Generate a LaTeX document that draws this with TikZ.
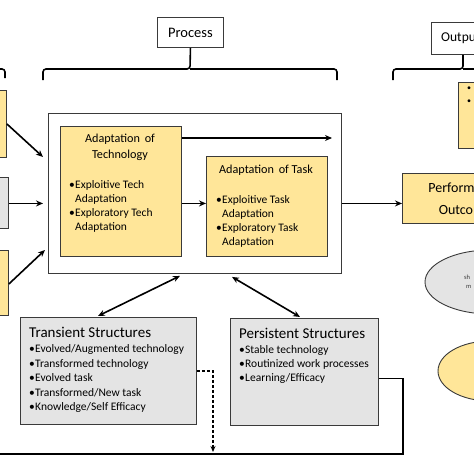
\documentclass[tikz,border=0pt]{standalone}
\usepackage{fontspec}
\setmainfont{Carlito}
\usetikzlibrary{arrows.meta,shapes.geometric}
\definecolor{gold}{HTML}{FFE699}
\definecolor{lgrey}{HTML}{E4E4E4}
\definecolor{edge}{HTML}{3A3A3A}
\newcommand{\bul}{\makebox[6pt][l]{•}}
\newcommand{\ind}{\hspace*{6pt}}
\begin{document}
\begin{tikzpicture}[x=1pt,y=-1pt,
  box/.style={draw=edge, line width=0.9pt, rectangle, inner sep=0, anchor=north west},
  goldbox/.style={box, fill=gold},
  greybox/.style={box, fill=lgrey},
  txt/.style={inner sep=0, align=left, anchor=north west},
  arr/.style={line width=1.6pt, -{Stealth[length=7pt,width=6pt]}},
  darr/.style={line width=1.6pt, {Stealth[length=7pt,width=6pt]}-{Stealth[length=7pt,width=6pt]}},
  brace/.style={line width=1.6pt, rounded corners=3pt},
  body/.style={font=\fontsize{11.5}{14}\selectfont},
  ttl/.style={font=\fontsize{15}{17}\selectfont}]
\useasboundingbox (0,0) rectangle (474,474);
% header boxes
\node[box, minimum width=66pt, minimum height=30pt, font=\fontsize{14.5}{16}\selectfont] (proc) at (157,17) {Process};
\node[box, minimum width=70pt, minimum height=32pt] (outb) at (431,22) {};
\node[inner sep=0, anchor=west, font=\fontsize{13.5}{16}\selectfont] (outt) at (441,38.5) {Output};
% braces
\draw[brace] (43,80) -- (43,69) -- (190,69) -- (proc.south);
\draw[brace] (190,69) -- (337,69) -- (337,80);
\draw[brace] (-10,69) -- (5,69) -- (5,78);
\draw[brace] (393,80) -- (393,69) -- (463,69) -- (outb.south -| 463,0);
\draw[brace] (463,69) -- (490,69);
% left boxes
\node[goldbox, minimum width=30pt, minimum height=67pt] (l1) at (-24,90) {};
\node[greybox, minimum width=32pt, minimum height=51pt] (l2) at (-24,177) {};
\node[goldbox, minimum width=32pt, minimum height=65pt] (l3) at (-24,250) {};
% main box
\node[box, fill=white, minimum width=293pt, minimum height=160pt] (main) at (48,113) {};
\node[goldbox, minimum width=121pt, minimum height=130pt] (tech) at (60,126) {};
\node[inner sep=0, align=center, font=\fontsize{12.2}{16}\selectfont] (techt) at (120,147) {Adaptation\hspace{2pt} of\\Technology};
\node[txt, body] (techb) at (69,180.8) {\bul Exploitive Tech\\\ind Adaptation\\\bul Exploratory Tech\\\ind Adaptation};
\node[goldbox, minimum width=121pt, minimum height=100pt] (task) at (206,156) {};
\node[inner sep=0, anchor=base, font=\fontsize{12.2}{14}\selectfont] (taskt) at (266,173) {Adaptation\hspace{2pt} of Task};
\node[txt, body] (taskb) at (216,195.8) {\bul Exploitive Task\\\ind Adaptation\\\bul Exploratory Task\\\ind Adaptation};
% output side
\node[goldbox, minimum width=40pt, minimum height=66pt] (outy) at (458,82) {};
\node[inner sep=0, align=left, anchor=north west, font=\fontsize{8}{12.5}\selectfont] (outbul) at (467,87) {•\\•};
\node[goldbox, minimum width=100pt, minimum height=50pt] (perf) at (402,173) {};
\node[inner sep=0, align=center, font=\fontsize{14}{22}\selectfont] (perft) at (465,199) {Performance\\Outcome};
\node[draw=edge, line width=0.9pt, fill=lgrey, ellipse, minimum width=130pt, minimum height=64pt] (el1) at (490,282) {};
\node[inner sep=0, anchor=west, font=\fontsize{6.5}{8}\selectfont, text=edge] (el1a) at (464,277) {sh};
\node[inner sep=0, anchor=west, font=\fontsize{6.5}{8}\selectfont, text=edge] (el1b) at (466,287) {m};
\node[draw=edge, line width=0.9pt, fill=gold, ellipse, minimum width=104pt, minimum height=60pt] (el2) at (490,371) {};
% structures
\node[greybox, minimum width=176pt, minimum height=107pt] (trans) at (20,317) {};
\node[inner sep=0, anchor=base west, ttl] (transt) at (29,337.5) {Transient Structures};
\node[txt, font=\fontsize{11.5}{14.5}\selectfont] (transb) at (29,344.8) {\bul Evolved/Augmented technology\\\bul Transformed technology\\\bul Evolved task\\\bul Transformed/New task\\\bul Knowledge/Self Efficacy};
\node[greybox, minimum width=148pt, minimum height=107pt] (pers) at (230,318) {};
\node[inner sep=0, anchor=base west, ttl] (perst) at (239,338.5) {Persistent Structures};
\node[txt, body] (persb) at (239,345.8) {\bul Stable technology\\\bul Routinized work processes\\\bul Learning/Efficacy};
% coordinates
\coordinate (a1) at (43,157);
\coordinate (a3) at (45,250);
\coordinate (techend) at (332,138);
\coordinate (dashend) at (213,452);
\coordinate (loopc) at (403,454);
\coordinate (loopend) at (-10,454);
% connectors
\draw[arr] (l1.east) -- (a1);
\draw[arr] ([yshift=-0.5pt]l2.east) -- ([xshift=-5pt,yshift=-10pt]main.west);
\draw[arr] ([yshift=-1pt]l3.east) -- (a3);
\draw[arr] ([yshift=-12pt]tech.north east) -- (techend);
\draw[arr] ([yshift=3pt]task.west -| tech.east) -- ([yshift=3pt]task.west);
\draw[arr] ([yshift=-5pt]perf.west -| main.east) -- ([yshift=-5pt]perf.west);
\draw[darr] ([xshift=132pt,yshift=-2pt]main.south west) -- ([xshift=78pt,yshift=1pt]trans.north west);
\draw[darr] ([xshift=184pt,yshift=-3pt]main.south west) -- ([xshift=70pt,yshift=1pt]pers.north west);
\draw[line width=1.4pt, dash pattern=on 3pt off 2pt, -{Stealth[length=6pt,width=5pt]}] (trans.east) -| (dashend);
\draw[line width=1.8pt] ([yshift=-6.5pt]pers.east) -| (loopc) -- (loopend);
\end{tikzpicture}
\end{document}
